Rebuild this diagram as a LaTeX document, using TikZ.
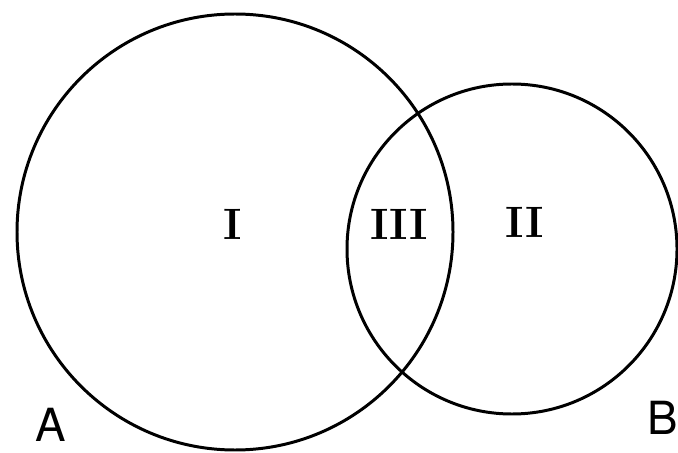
\documentclass[tikz,border=0pt]{standalone}
\usepackage{fontspec}
\setsansfont{TeX Gyre Heros}
\usepackage{tikz}
\usetikzlibrary{positioning}

\begin{document}
\begin{tikzpicture}[x=0.02cm,y=-0.02cm,line width=1.7pt]
\useasboundingbox (0,0) rectangle (678,452);
\tikzset{region/.style={font=\fontsize{25}{25}\selectfont\bfseries},
         setname/.style={font=\sffamily\fontsize{26}{26}\selectfont,inner sep=1pt}}
% the two sets
\draw (235,232) circle (218);
\draw (512,249) circle (165);
% regions
\node[region] (one) at (233,224) {I};
\node[region] (three) at (399,224) {III};
\node[region] (two) at (525,222) {II};
% set names
\node[setname] (nameA) at (51,425) {A};
\node[setname] (nameB) at (663,418) {B};
\end{tikzpicture}
\end{document}
